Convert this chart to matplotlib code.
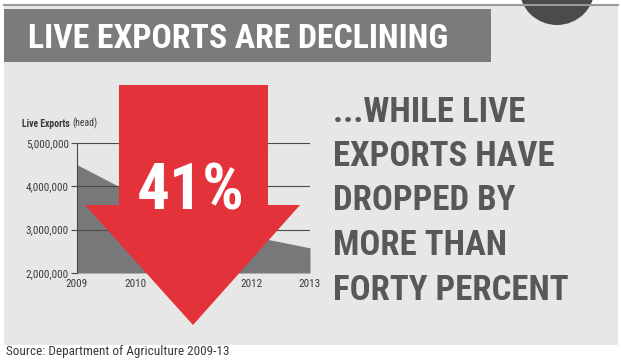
import matplotlib
matplotlib.use("Agg")
import matplotlib.pyplot as plt
from matplotlib.patches import Rectangle, Polygon, Circle
from matplotlib.ticker import FuncFormatter

# data
years = [2009, 2010, 2011, 2012, 2013]
live_exports = [4500000, 3800000, 3300000, 2850000, 2580000]
y_ticks = [2000000, 3000000, 4000000, 5000000]
title = "LIVE EXPORTS ARE DECLINING"
side_lines = ["...WHILE LIVE", "EXPORTS HAVE", "DROPPED BY", "MORE THAN", "FORTY PERCENT"]
drop_label = "41%"
source = "Source: Department of Agriculture 2009-13"

W, H = 621, 360
COND = ["Roboto Condensed", "Archivo Narrow", "Barlow Condensed", "DejaVu Sans"]
BG = "#e7e7e8"
BANNER = "#7b7b7d"
RED = "#e3323a"
DARK = "#58585a"

fig = plt.figure(figsize=(W / 100, H / 100), dpi=100)
fig.patch.set_facecolor("white")

# background / decoration layer in pixel coords
bg = fig.add_axes([0, 0, 1, 1], zorder=0)
bg.set_xlim(0, W)
bg.set_ylim(H, 0)
bg.axis("off")
bg.add_patch(Rectangle((4, 6), 614, 339, color=BG, lw=0))
bg.plot([4, 618], [5, 5], color="#9a9a9a", lw=1.5)
bg.add_patch(Rectangle((4, 9), 487, 53, color=BANNER, lw=0))
bg.add_patch(Circle((557, -13), 38, color="#4b4b4d", lw=0, clip_on=True))
bg.text(28, 47.5, title, color="white", fontsize=24.3, fontweight="bold",
        family=COND, va="baseline")
bg.text(6, 352, source, color="#3a3a3a", fontsize=9.5, family=COND, va="center")

# the area chart
x0, x1, ytop, ybot = 77, 310, 143, 273
ax = fig.add_axes([x0 / W, 1 - ybot / H, (x1 - x0) / W, (ybot - ytop) / H], zorder=1)
ax.patch.set_alpha(0)
ax.fill_between(years, live_exports, y_ticks[0], color="#78787b", lw=0, zorder=1)
for v in y_ticks[1:]:
    ax.plot([years[0], years[-1]], [v, v], color="#4a4a4a", lw=0.8, zorder=2)
ax.set_xlim(years[0], years[-1])
ax.set_ylim(y_ticks[0], y_ticks[-1])
ax.set_xticks(years)
ax.set_yticks(y_ticks)
ax.yaxis.set_major_formatter(FuncFormatter(lambda v, p: f"{v:,.0f}"))
for s in ["top", "right", "bottom"]:
    ax.spines[s].set_visible(False)
ax.spines["left"].set_color("#4a4a4a")
ax.spines["left"].set_linewidth(0.8)
ax.tick_params(axis="y", length=4, width=0.8, color="#4a4a4a", pad=2,
               labelsize=8, labelcolor="#3c3c3c")
ax.tick_params(axis="x", length=0, pad=4, labelsize=8, labelcolor="#3c3c3c")
for lab in ax.get_xticklabels() + ax.get_yticklabels():
    lab.set_family(COND)

# overlay: arrow, big number, side text
top = fig.add_axes([0, 0, 1, 1], zorder=3)
top.set_xlim(0, W)
top.set_ylim(H, 0)
top.axis("off")
top.patch.set_alpha(0)

t1 = top.text(22, 127, "Live Exports", fontsize=7, fontweight="bold", color="#3a3a3a",
              family=COND, va="baseline")
top.annotate("(head)", xy=(1, 0), xycoords=t1, xytext=(2, 0), textcoords="offset points",
             fontsize=7, color="#3a3a3a", family=COND, va="bottom")

arrow = [(119, 85), (268, 85), (268, 205), (300, 205), (193, 325),
         (85, 205), (119, 205)]
top.add_patch(Polygon(arrow, closed=True, color=RED, lw=0))
top.text(191, 209, drop_label, color="white", fontsize=47, fontweight="bold",
         family=COND, ha="center", va="baseline")

baselines = [122, 166.5, 210.5, 255, 299.5]
for line, yb in zip(side_lines, baselines):
    top.text(333, yb, line, color=DARK, fontsize=25, fontweight="bold",
             family=COND, va="baseline")

fig.savefig("out.png", dpi=100, facecolor=fig.get_facecolor())
